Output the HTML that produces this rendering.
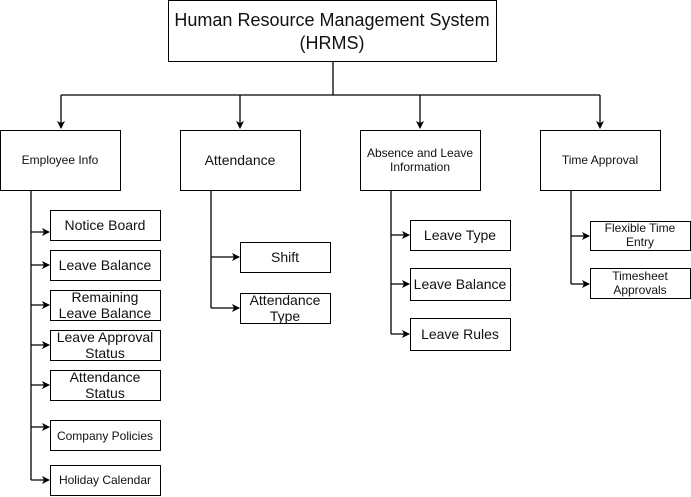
<!DOCTYPE html>
<html><head><meta charset="utf-8"><style>
html,body{margin:0;padding:0;background:#fff;}
svg{display:block;}
text{font-family:"Liberation Sans",Arial,sans-serif;fill:#111;text-anchor:middle;}
</style></head><body>
<svg width="691" height="497" viewBox="0 0 691 497" xmlns="http://www.w3.org/2000/svg">
<defs><marker id="a" markerWidth="8" markerHeight="8" refX="7" refY="4" orient="auto" markerUnits="userSpaceOnUse"><path d="M0,0 L8,4 L0,8 L2,4 Z" fill="#000"/></marker></defs>
<g fill="#fff" stroke="#000" stroke-width="1">
<rect x="168.5" y="0.5" width="328" height="61"/>
<rect x="0.5" y="130.5" width="120" height="60"/>
<rect x="180.5" y="130.5" width="120" height="60"/>
<rect x="360.5" y="130.5" width="120" height="60"/>
<rect x="540.5" y="130.5" width="120" height="60"/>
<rect x="50.5" y="210.5" width="110" height="30"/>
<rect x="50.5" y="250.5" width="110" height="30"/>
<rect x="50.5" y="290.5" width="110" height="30"/>
<rect x="50.5" y="330.5" width="110" height="30"/>
<rect x="50.5" y="370.5" width="110" height="30"/>
<rect x="50.5" y="420.5" width="110" height="30"/>
<rect x="50.5" y="465.5" width="110" height="30"/>
<rect x="240.5" y="242.5" width="90" height="30"/>
<rect x="240.5" y="293.5" width="90" height="30"/>
<rect x="410.5" y="220.5" width="100" height="30"/>
<rect x="410.5" y="268.5" width="100" height="32"/>
<rect x="410.5" y="318.5" width="100" height="32"/>
<rect x="590.5" y="221.5" width="100" height="29"/>
<rect x="590.5" y="268.5" width="100" height="30"/>
</g>
<g fill="none" stroke="#000" stroke-width="1.3">
<path d="M333 62 V95 M61 95 H600"/>
<path d="M61 95 V128" marker-end="url(#a)"/>
<path d="M240 95 V128" marker-end="url(#a)"/>
<path d="M420 95 V128" marker-end="url(#a)"/>
<path d="M600 95 V128" marker-end="url(#a)"/>
<path d="M31 190 V480 M211 190 V308 M391 190 V334 M571 190 V284"/>
<path d="M31 232 H49" marker-end="url(#a)"/>
<path d="M31 265 H49" marker-end="url(#a)"/>
<path d="M31 305 H49" marker-end="url(#a)"/>
<path d="M31 345 H49" marker-end="url(#a)"/>
<path d="M31 385 H49" marker-end="url(#a)"/>
<path d="M31 427 H49" marker-end="url(#a)"/>
<path d="M31 480 H49" marker-end="url(#a)"/>
<path d="M211 257 H239" marker-end="url(#a)"/>
<path d="M211 308 H239" marker-end="url(#a)"/>
<path d="M391 235 H409" marker-end="url(#a)"/>
<path d="M391 284 H409" marker-end="url(#a)"/>
<path d="M391 334 H409" marker-end="url(#a)"/>
<path d="M571 236 H589" marker-end="url(#a)"/>
<path d="M571 284 H589" marker-end="url(#a)"/>
</g>
<text x="332" y="26" font-size="18">Human Resource Management System</text>
<text x="332" y="49" font-size="18">(HRMS)</text>
<text x="60" y="164" font-size="12">Employee Info</text>
<text x="240" y="165" font-size="14">Attendance</text>
<text x="420" y="157" font-size="12">Absence and Leave</text>
<text x="420" y="171" font-size="12">Information</text>
<text x="600" y="164" font-size="12">Time Approval</text>
<text x="105" y="230" font-size="14">Notice Board</text>
<text x="105" y="270" font-size="14">Leave Balance</text>
<text x="105" y="302" font-size="14">Remaining</text>
<text x="105" y="318" font-size="14">Leave Balance</text>
<text x="105" y="342" font-size="14">Leave Approval</text>
<text x="105" y="358" font-size="14">Status</text>
<text x="105" y="382" font-size="14">Attendance</text>
<text x="105" y="398" font-size="14">Status</text>
<text x="105" y="440" font-size="12">Company Policies</text>
<text x="105" y="484" font-size="12">Holiday Calendar</text>
<text x="285" y="262" font-size="14">Shift</text>
<text x="285" y="305" font-size="14">Attendance</text>
<text x="285" y="321" font-size="14">Type</text>
<text x="460" y="240" font-size="14">Leave Type</text>
<text x="460" y="289" font-size="14">Leave Balance</text>
<text x="460" y="339" font-size="14">Leave Rules</text>
<text x="640" y="232" font-size="12">Flexible Time</text>
<text x="640" y="246" font-size="12">Entry</text>
<text x="640" y="280" font-size="12">Timesheet</text>
<text x="640" y="294" font-size="12">Approvals</text>
</svg>
</body></html>
